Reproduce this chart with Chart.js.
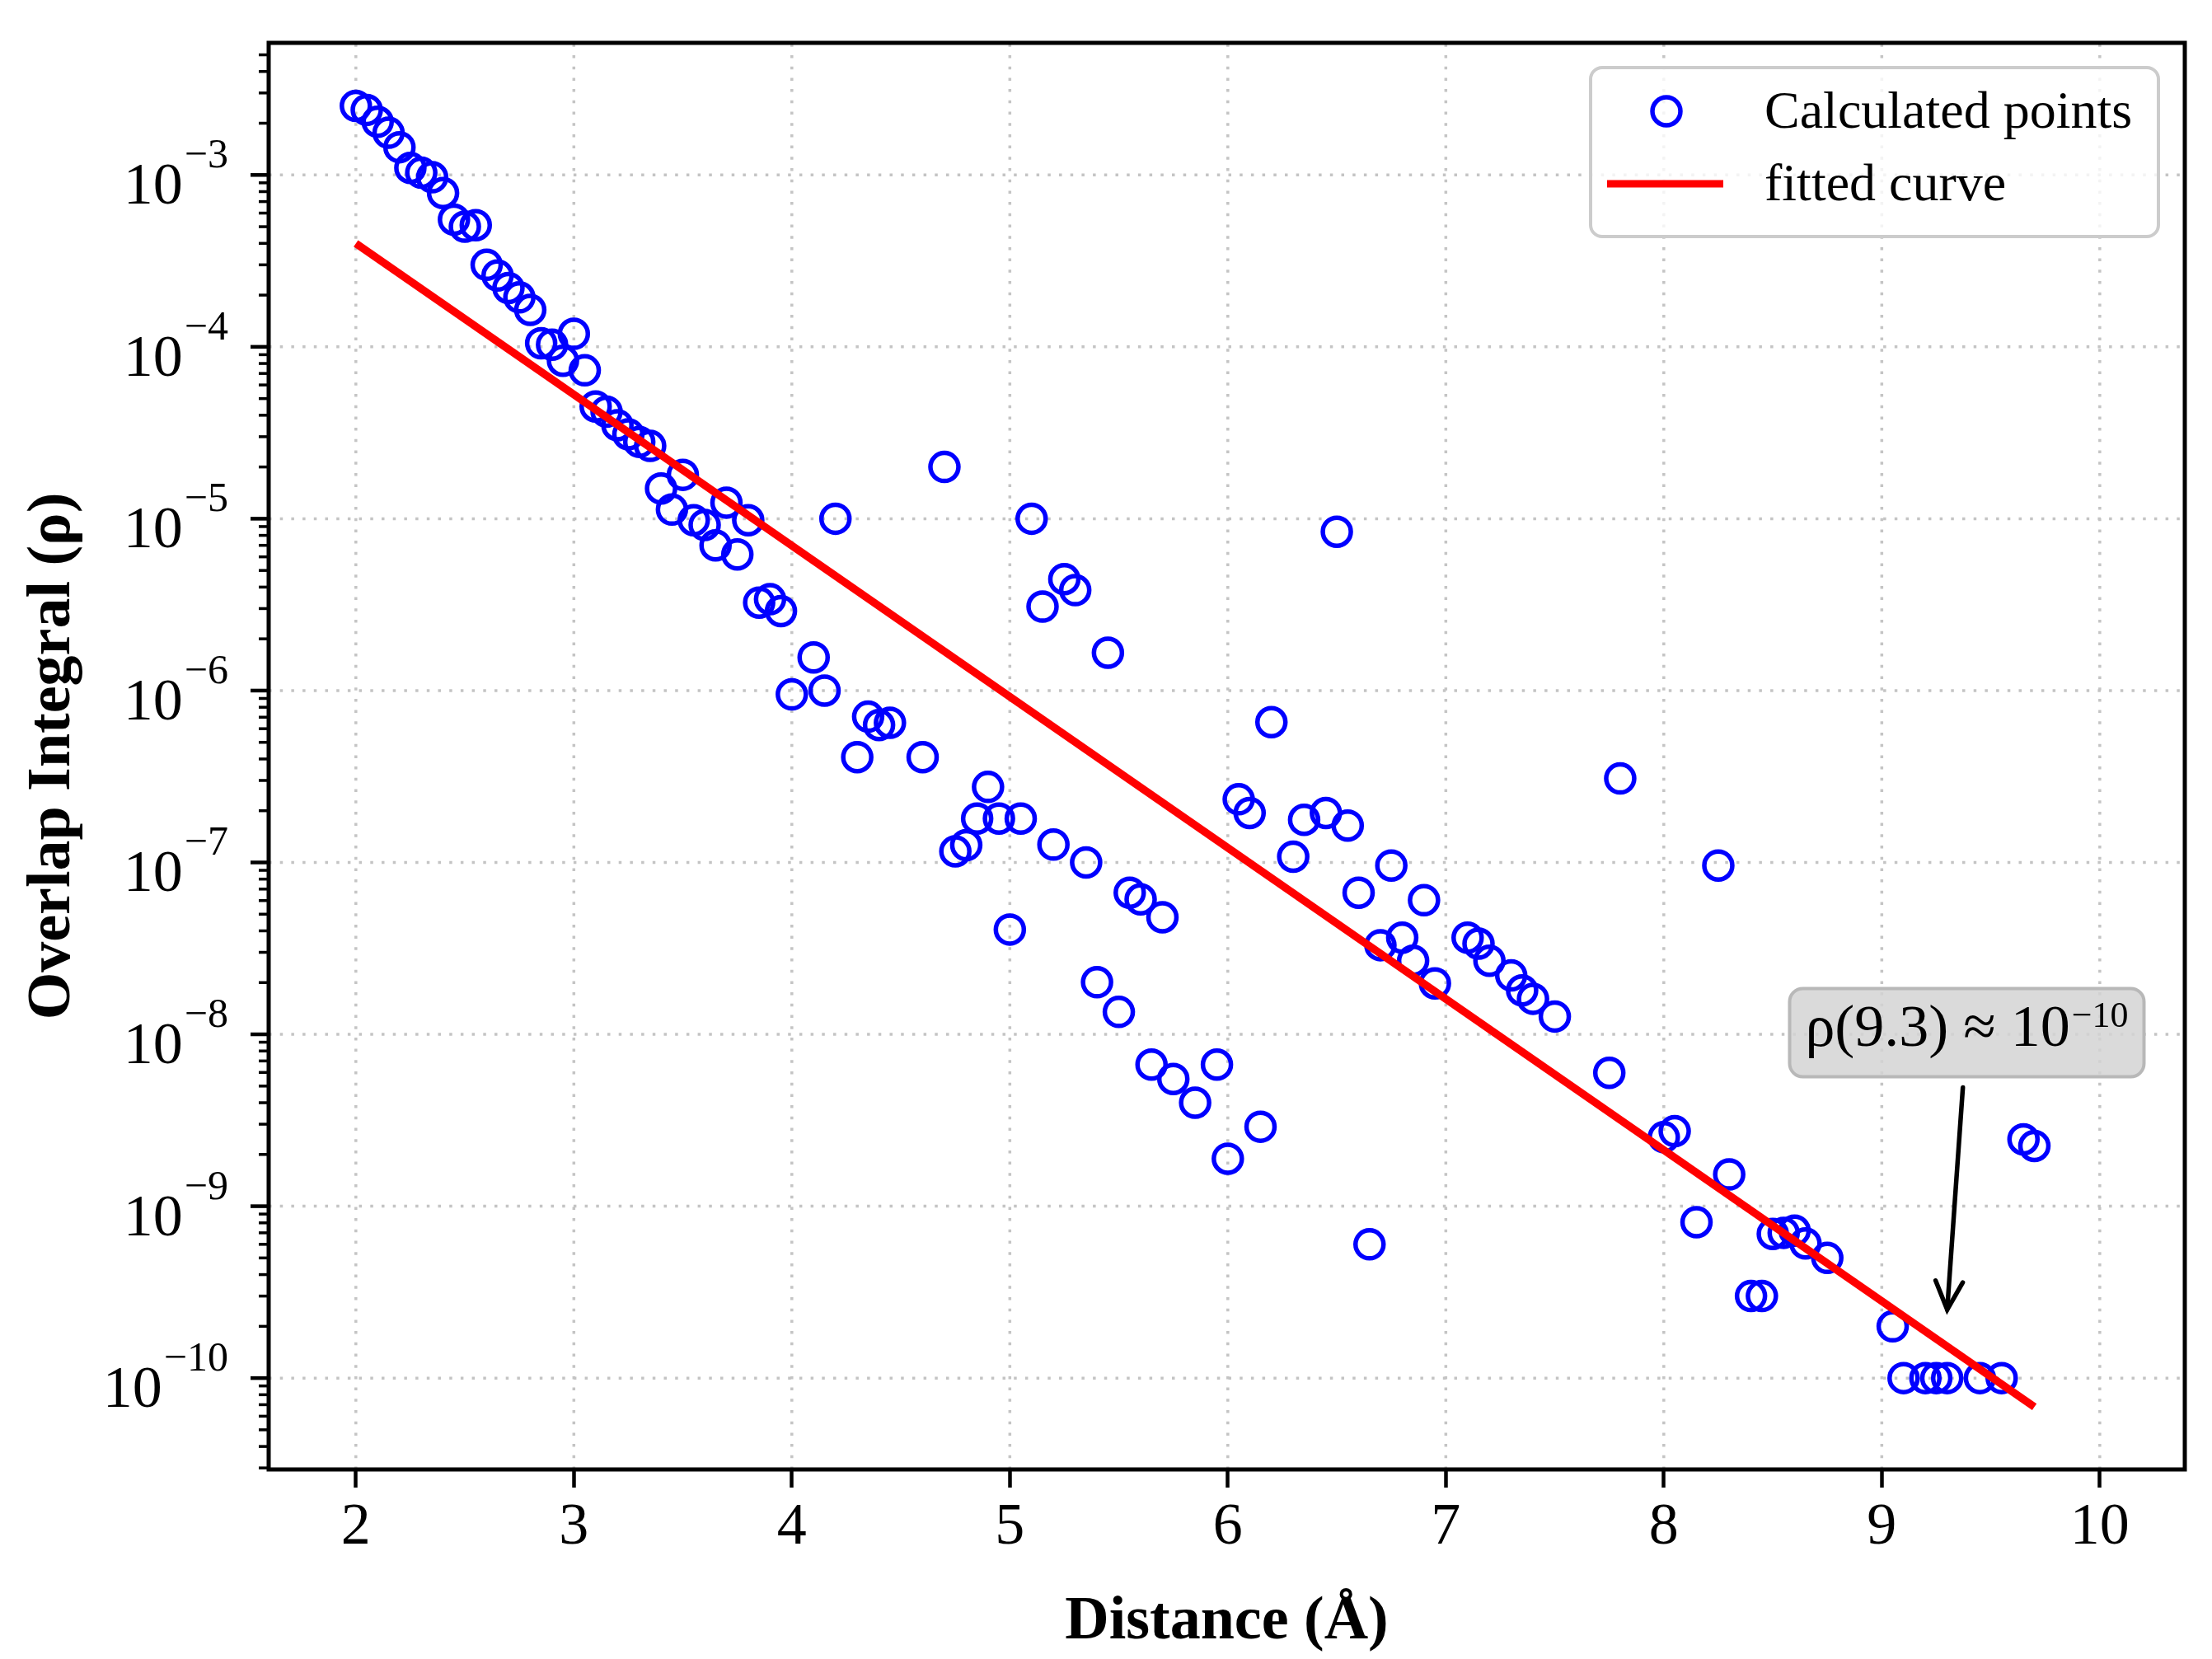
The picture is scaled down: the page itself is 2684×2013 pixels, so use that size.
<!DOCTYPE html>
<html><head><meta charset="utf-8">
<script src="https://cdn.jsdelivr.net/npm/chart.js@4.4.1/dist/chart.umd.min.js"></script>
<style>html,body{margin:0;padding:0;background:#fff;overflow:hidden}#wrap{width:2684px;height:2013px;position:relative}</style>
</head><body><div id="wrap"><canvas id="c" width="2684" height="2013"></canvas></div>
<script>
// ---------------- data ----------------
const distance = [2.00,2.05,2.10,2.15,2.20,2.25,2.30,2.35,2.40,2.45,2.50,2.55,2.60,2.65,2.70,2.75,2.80,2.85,2.90,2.95,
  3.00,3.05,3.10,3.15,3.20,3.25,3.30,3.35,3.40,3.45,3.50,3.55,3.60,3.65,3.70,3.75,3.80,3.85,3.90,3.95,
  4.00,4.10,4.15,4.20,4.30,4.35,4.40,4.45,4.60,4.70,4.75,4.80,4.85,4.90,4.95,
  5.00,5.05,5.10,5.15,5.20,5.25,5.30,5.35,5.40,5.45,5.50,5.55,5.60,5.65,5.70,5.75,5.85,5.95,
  6.00,6.05,6.10,6.15,6.20,6.30,6.35,6.45,6.50,6.55,6.60,6.65,6.70,6.75,6.80,6.85,6.90,6.95,
  7.10,7.15,7.20,7.30,7.35,7.40,7.50,7.75,7.80,
  8.00,8.05,8.15,8.25,8.30,8.40,8.45,8.50,8.55,8.60,8.65,8.75,
  9.05,9.10,9.20,9.25,9.30,9.45,9.55,9.65,9.70];
const overlap = [2.52e-3,2.39e-3,2.04e-3,1.76e-3,1.45e-3,1.10e-3,1.03e-3,9.7e-4,7.85e-4,5.5e-4,5.0e-4,5.1e-4,3.0e-4,2.6e-4,2.2e-4,1.94e-4,1.64e-4,1.05e-4,1.03e-4,8.3e-5,
  1.19e-4,7.3e-5,4.5e-5,4.2e-5,3.5e-5,3.1e-5,2.8e-5,2.65e-5,1.5e-5,1.13e-5,1.8e-5,9.8e-6,9.2e-6,7.0e-6,1.24e-5,6.2e-6,9.8e-6,3.25e-6,3.4e-6,2.9e-6,
  9.5e-7,1.56e-6,1.0e-6,1.0e-5,4.1e-7,7.05e-7,6.3e-7,6.5e-7,4.1e-7,2.0e-5,1.16e-7,1.26e-7,1.8e-7,2.75e-7,1.8e-7,
  4.07e-8,1.8e-7,1.0e-5,3.08e-6,1.27e-7,4.45e-6,3.84e-6,1.0e-7,2.01e-8,1.66e-6,1.35e-8,6.67e-8,6.1e-8,6.67e-9,4.8e-8,5.5e-9,4.0e-9,6.67e-9,
  1.89e-9,2.33e-7,1.94e-7,2.9e-9,6.55e-7,1.08e-7,1.77e-7,1.94e-7,8.4e-6,1.64e-7,6.67e-8,6.0e-10,3.3e-8,9.6e-8,3.65e-8,2.68e-8,6.03e-8,1.98e-8,
  3.65e-8,3.37e-8,2.68e-8,2.2e-8,1.8e-8,1.61e-8,1.27e-8,5.97e-9,3.08e-7,
  2.52e-9,2.73e-9,8.07e-10,9.6e-8,1.53e-9,3.0e-10,3.0e-10,6.9e-10,7.0e-10,7.2e-10,6.07e-10,5.0e-10,
  2.0e-10,1.0e-10,1.0e-10,1.0e-10,1.0e-10,1.0e-10,1.0e-10,2.45e-9,2.24e-9];
const fitDistance = [2.0, 9.7];
const fitOverlap = [4.0e-4, 6.8e-11];
const xTickValues = [2, 3, 4, 5, 6, 7, 8, 9, 10];
const yDecadeExponents = [-10, -9, -8, -7, -6, -5, -4, -3];
const legendLabels = ['Calculated points', 'fitted curve'];
const xTitle = 'Distance (Å)';
const yTitle = 'Overlap Integral (ρ)';
const annotationText = 'ρ(9.3) ≈ 10';
const annotationExponent = '−10';
const annotationArrowTip = [9.3, 2.5e-10];
const annotationTextAt = [9.39, 1.04e-8];

// ---------------- drawing ----------------
const SERIF = '"Liberation Serif", "Times New Roman", Times, serif';
Chart.defaults.font.family = SERIF;

function roundRectPath(ctx, x, y, w, h, r) {
  ctx.beginPath();
  ctx.moveTo(x + r, y);
  ctx.lineTo(x + w - r, y); ctx.arcTo(x + w, y, x + w, y + r, r);
  ctx.lineTo(x + w, y + h - r); ctx.arcTo(x + w, y + h, x + w - r, y + h, r);
  ctx.lineTo(x + r, y + h); ctx.arcTo(x, y + h, x, y + h - r, r);
  ctx.lineTo(x, y + r); ctx.arcTo(x, y, x + r, y, r);
  ctx.closePath();
}

const decor = {
  id: 'decor',
  beforeDatasetsDraw(chart) {
    const {ctx, chartArea: a, scales: {x, y}} = chart;
    ctx.save();
    ctx.beginPath(); ctx.rect(a.left, a.top, a.right - a.left, a.bottom - a.top); ctx.clip();
    ctx.strokeStyle = '#c4c4c4'; ctx.lineWidth = 3.5; ctx.setLineDash([3.5, 10.2]);
    xTickValues.forEach(v => {
      const px = x.getPixelForValue(v);
      ctx.beginPath(); ctx.moveTo(px, a.bottom); ctx.lineTo(px, a.top); ctx.stroke();
    });
    yDecadeExponents.forEach(e => {
      const py = y.getPixelForValue(Math.pow(10, e));
      ctx.beginPath(); ctx.moveTo(a.left, py); ctx.lineTo(a.right, py); ctx.stroke();
    });
    ctx.restore();
  },
  afterDatasetsDraw(chart) {
    const {ctx, chartArea: a, scales: {x, y}} = chart;
    // legend
    ctx.save();
    const W = 689, H = 205, L = a.right - 32 - W, T = a.top + 30;
    roundRectPath(ctx, L, T, W, H, 14);
    ctx.fillStyle = 'rgba(255,255,255,0.8)'; ctx.fill();
    ctx.strokeStyle = '#cccccc'; ctx.lineWidth = 4; ctx.stroke();
    ctx.beginPath(); ctx.arc(L + 92, T + 53, 17, 0, Math.PI * 2);
    ctx.strokeStyle = '#0000ff'; ctx.lineWidth = 5.5; ctx.stroke();
    ctx.beginPath(); ctx.moveTo(L + 20, T + 141); ctx.lineTo(L + 161, T + 141);
    ctx.strokeStyle = '#ff0000'; ctx.lineWidth = 9; ctx.stroke();
    ctx.fillStyle = '#000'; ctx.font = '64px ' + SERIF; ctx.textAlign = 'left'; ctx.textBaseline = 'middle';
    ctx.fillText(legendLabels[0], L + 211, T + 56);
    ctx.fillText(legendLabels[1], L + 211, T + 144);
    ctx.restore();

    // annotation
    ctx.save();
    const tx = x.getPixelForValue(annotationTextAt[0]);
    const ty = y.getPixelForValue(annotationTextAt[1]);
    const ax = x.getPixelForValue(annotationArrowTip[0]);
    const ay = y.getPixelForValue(annotationArrowTip[1]);
    ctx.font = '72px ' + SERIF; const w1 = ctx.measureText(annotationText).width;
    ctx.font = '44px ' + SERIF; const w2 = ctx.measureText(annotationExponent).width;
    const tw = w1 + 2 + w2;
    const bw = 430, bh = 107, bx = tx - bw / 2, by = ty - 52;
    roundRectPath(ctx, bx, by, bw, bh, 16);
    ctx.fillStyle = 'rgba(211,211,211,0.85)'; ctx.fill();
    ctx.strokeStyle = '#b8b8b8'; ctx.lineWidth = 4; ctx.stroke();
    ctx.fillStyle = '#000'; ctx.textAlign = 'left'; ctx.textBaseline = 'alphabetic';
    const sx = tx - tw / 2;
    ctx.font = '72px ' + SERIF; ctx.fillText(annotationText, sx, ty + 18);
    ctx.font = '44px ' + SERIF; ctx.fillText(annotationExponent, sx + w1 + 2, ty - 5);
    // arrow
    const sy = by + bh + 13;
    const sxA = tx + (ax - tx) * (sy - ty) / (ay - ty);
    ctx.strokeStyle = '#000'; ctx.lineWidth = 5.5; ctx.lineCap = 'round';
    ctx.beginPath(); ctx.moveTo(sxA, sy); ctx.lineTo(ax, ay); ctx.stroke();
    const ang = Math.atan2(ay - sy, ax - sxA);
    const hl = 38, ha = 0.45;
    ctx.beginPath();
    ctx.moveTo(ax - hl * Math.cos(ang - ha), ay - hl * Math.sin(ang - ha));
    ctx.lineTo(ax, ay);
    ctx.lineTo(ax - hl * Math.cos(ang + ha), ay - hl * Math.sin(ang + ha));
    ctx.stroke();
    ctx.restore();
  },
  afterDraw(chart) {
    const {ctx, chartArea: a, scales: {y}} = chart;
    ctx.save();
    // y ticks (major + minor)
    ctx.strokeStyle = '#000';
    for (let e = -12; e <= -1; e++) {
      for (let m = 1; m <= 9; m++) {
        const v = m * Math.pow(10, e);
        if (v < y.min || v > y.max) continue;
        const py = y.getPixelForValue(v);
        const len = m === 1 ? 22 : 12;
        ctx.lineWidth = m === 1 ? 4.5 : 3.5;
        ctx.beginPath(); ctx.moveTo(a.left - len, py); ctx.lineTo(a.left, py); ctx.stroke();
      }
    }
    // y labels 10^e
    ctx.fillStyle = '#000'; ctx.textAlign = 'right'; ctx.textBaseline = 'alphabetic';
    yDecadeExponents.forEach(e => {
      const py = y.getPixelForValue(Math.pow(10, e));
      const expStr = '−' + String(-e);
      const right = a.left - 49;
      ctx.font = '50px ' + SERIF;
      ctx.fillText(expStr, right, py - 9);
      const ew = ctx.measureText(expStr).width;
      ctx.font = '72px ' + SERIF;
      ctx.fillText('10', right - ew - 2, py + 35);
    });
    // frame
    ctx.lineWidth = 5; ctx.strokeStyle = '#000';
    ctx.strokeRect(a.left, a.top, a.right - a.left, a.bottom - a.top);
    ctx.restore();
  }
};

new Chart(document.getElementById('c').getContext('2d'), {
  type: 'scatter',
  data: {
    datasets: [
      {
        type: 'line', label: legendLabels[1],
        data: fitDistance.map((d, i) => ({x: d, y: fitOverlap[i]})),
        borderColor: '#ff0000', backgroundColor: '#ff0000', borderWidth: 9.5,
        pointRadius: 0, fill: false, tension: 0, showLine: true, order: 0
      },
      {
        type: 'scatter', label: legendLabels[0],
        data: distance.map((d, i) => ({x: d, y: overlap[i]})),
        pointStyle: 'circle', pointRadius: 17, pointBorderWidth: 5.5, borderWidth: 5.5,
        pointBorderColor: '#0000ff', pointBackgroundColor: 'rgba(0,0,0,0)',
        borderColor: '#0000ff', backgroundColor: 'rgba(0,0,0,0)', order: 1
      }
    ]
  },
  options: {
    responsive: false, animation: false, devicePixelRatio: 1,
    layout: {padding: {top: 52, right: 33, left: 0, bottom: 0}},
    plugins: {legend: {display: false}, tooltip: {enabled: false}},
    scales: {
      x: {
        type: 'linear', min: 1.6, max: 10.39,
        afterBuildTicks: s => { s.ticks = xTickValues.map(v => ({value: v})); },
        afterFit: s => { s.height = 230; },
        ticks: {font: {size: 72}, color: '#000', padding: 6, autoSkip: false, maxRotation: 0,
                callback: v => String(v)},
        grid: {display: true, drawOnChartArea: false, drawTicks: true, tickLength: 22,
               tickWidth: 4.5, tickColor: '#000', color: '#000'},
        border: {display: false},
        title: {display: true, text: xTitle, color: '#000',
                font: {size: 74, weight: 'bold'}, padding: {top: 20, bottom: 0}}
      },
      y: {
        type: 'logarithmic', min: 2.94e-11, max: 5.87e-3,
        afterFit: s => { s.width = 326; },
        ticks: {display: false},
        grid: {display: false},
        border: {display: false},
        title: {display: true, text: yTitle, color: '#000',
                font: {size: 74, weight: 'bold'}, padding: {top: 20, bottom: 0}}
      }
    }
  },
  plugins: [decor]
});
</script>
</body></html>
